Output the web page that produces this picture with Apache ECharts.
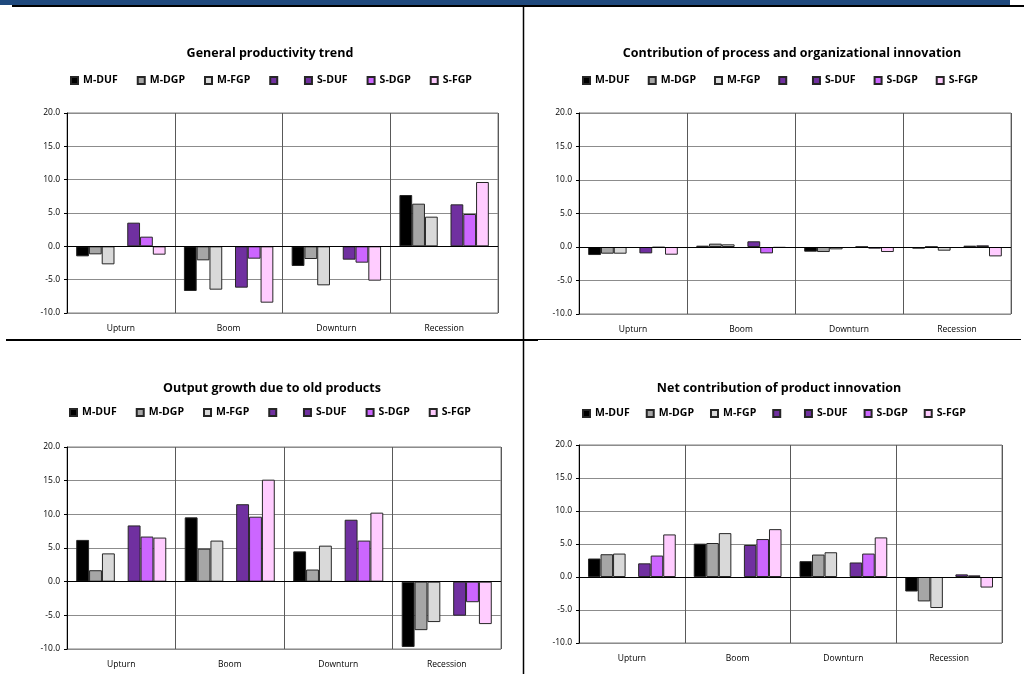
<!DOCTYPE html>
<html>
<head>
<meta charset="utf-8">
<script src="https://cdn.jsdelivr.net/npm/echarts@6/dist/echarts.min.js"></script>
<style>
html,body{margin:0;padding:0;background:#fff;}
#c{width:1024px;height:674px;}
</style>
</head>
<body>
<div id="c"></div>
<script>
// ---- data ----
const categories = ['Upturn', 'Boom', 'Downturn', 'Recession'];
const seriesNames = ['M-DUF', 'M-DGP', 'M-FGP', ' ', 'S-DUF', 'S-DGP', 'S-FGP'];
const yTicks = ['-10.0', '-5.0', '0.0', '5.0', '10.0', '15.0', '20.0'];
const chartTitles = ['General productivity trend', 'Contribution of process and organizational innovation',
                     'Output growth due to old products', 'Net contribution of product innovation'];

// General productivity trend
const gp_M_DUF = [-1.5, -6.7, -2.95, 7.7];
const gp_M_DGP = [-1.2, -2.1, -1.9, 6.4];
const gp_M_FGP = [-2.7, -6.5, -5.85, 4.45];
const gp_blank = [null, null, null, null];
const gp_S_DUF = [3.55, -6.2, -2.0, 6.3];
const gp_S_DGP = [1.45, -1.85, -2.45, 4.85];
const gp_S_FGP = [-1.25, -8.45, -5.15, 9.65];

// Contribution of process and organizational innovation
const pi_M_DUF = [-1.2, 0.2, -0.7, -0.25];
const pi_M_DGP = [-1.0, 0.5, -0.75, 0.05];
const pi_M_FGP = [-1.0, 0.4, -0.35, -0.55];
const pi_blank = [null, null, null, null];
const pi_S_DUF = [-0.95, 0.85, 0.05, 0.2];
const pi_S_DGP = [-0.08, -0.95, -0.25, 0.25];
const pi_S_FGP = [-1.15, -0.12, -0.75, -1.4];

// Output growth due to old products
const op_M_DUF = [6.2, 9.55, 4.5, -9.7];
const op_M_DGP = [1.7, 4.9, 1.8, -7.2];
const op_M_FGP = [4.2, 6.1, 5.35, -6.0];
const op_blank = [null, null, null, null];
const op_S_DUF = [8.35, 11.5, 9.2, -5.05];
const op_S_DGP = [6.7, 9.65, 6.1, -3.05];
const op_S_FGP = [6.55, 15.15, 10.25, -6.3];

// Net contribution of product innovation
const np_M_DUF = [2.8, 5.05, 2.4, -2.2];
const np_M_DGP = [3.45, 5.15, 3.4, -3.7];
const np_M_FGP = [3.55, 6.65, 3.75, -4.7];
const np_blank = [null, null, null, null];
const np_S_DUF = [2.07, 4.85, 2.2, 0.4];
const np_S_DGP = [3.25, 5.75, 3.55, 0.25];
const np_S_FGP = [6.45, 7.25, 6.0, -1.6];

const chartData = [
  [gp_M_DUF, gp_M_DGP, gp_M_FGP, gp_blank, gp_S_DUF, gp_S_DGP, gp_S_FGP],
  [pi_M_DUF, pi_M_DGP, pi_M_FGP, pi_blank, pi_S_DUF, pi_S_DGP, pi_S_FGP],
  [op_M_DUF, op_M_DGP, op_M_FGP, op_blank, op_S_DUF, op_S_DGP, op_S_FGP],
  [np_M_DUF, np_M_DGP, np_M_FGP, np_blank, np_S_DUF, np_S_DGP, np_S_FGP]
];

// ---- styles ----
const colors = ['#000000', '#A6A6A6', '#D9D9D9', '#7030A0', '#7030A0', '#CC66FF', '#FFCCFF'];
const FONT = '"Open Sans", "Liberation Sans", sans-serif';
const grids = [
  {left: 67, top: 113, width: 431, height: 200},
  {left: 579, top: 113, width: 432, height: 201},
  {left: 67, top: 447, width: 434, height: 202},
  {left: 579, top: 445, width: 423, height: 198}
];
const titlePos = [{x: 265, y: 42}, {x: 787, y: 42}, {x: 267, y: 377}, {x: 774, y: 377}];
const legendPos = [{x: 70, y: 75, gap: 19}, {x: 582, y: 75, gap: 18}, {x: 69, y: 407, gap: 19}, {x: 582, y: 408, gap: 16}];
const labelMargin = [11, 11, 11, 11];

const option = {
  animation: false,
  backgroundColor: '#fff',
  textStyle: {fontFamily: FONT},
  title: chartTitles.map((t, i) => ({
    text: t, left: titlePos[i].x, top: titlePos[i].y, textAlign: 'center',
    textStyle: {fontFamily: FONT, fontWeight: 'bold', fontSize: 12.5, color: '#000'}
  })),
  legend: legendPos.map((p, i) => ({
    left: p.x, top: p.y, padding: 0, itemWidth: 7, itemHeight: 7, itemGap: p.gap, icon: 'rect',
    data: seriesNames.map(n => n),
    textStyle: {fontFamily: FONT, fontWeight: 'bold', fontSize: 10.5, color: '#000'},
    selectedMode: false
  })),
  grid: grids.map(g => ({
    left: g.left, top: g.top, width: g.width, height: g.height,
    show: true, borderColor: '#808080', borderWidth: 1, backgroundColor: 'transparent'
  })),
  xAxis: grids.map((g, i) => ({
    type: 'category', gridIndex: i, data: categories,
    axisLine: {show: false}, axisTick: {show: false},
    axisLabel: {fontFamily: FONT, fontSize: 8.5, color: '#000', margin: labelMargin[i]},
    splitLine: {show: true, lineStyle: {color: '#595959', width: 1}}
  })),
  yAxis: grids.map((g, i) => ({
    type: 'value', gridIndex: i, min: -10, max: 20, interval: 5,
    axisLine: {show: true, onZero: false, lineStyle: {color: '#000', width: 1}},
    axisTick: {show: true, length: 3, lineStyle: {color: '#000'}},
    axisLabel: {fontFamily: FONT, fontSize: 8.5, color: '#000', margin: 7,
      formatter: v => yTicks[(v + 10) / 5]},
    splitLine: {show: true, lineStyle: {color: '#8c8c8c', width: 1}}
  })),
  series: [],
  graphic: [
    {type: 'rect', shape: {x: 0, y: 0, width: 1010, height: 5}, style: {fill: '#1F497D'}},
    {type: 'line', shape: {x1: 12, y1: 6, x2: 1024, y2: 6}, style: {stroke: '#000', lineWidth: 2}},
    {type: 'line', shape: {x1: 523.5, y1: 6, x2: 523.5, y2: 674}, style: {stroke: '#000', lineWidth: 1.5}},
    {type: 'line', shape: {x1: 6, y1: 340, x2: 538, y2: 340}, style: {stroke: '#000', lineWidth: 2}},
    {type: 'line', shape: {x1: 538, y1: 339.5, x2: 1021, y2: 339.5}, style: {stroke: '#000', lineWidth: 1}}
  ]
};

chartData.forEach((rows, gi) => {
  rows.forEach((vals, si) => {
    const s = {
      type: 'bar', name: seriesNames[si], xAxisIndex: gi, yAxisIndex: gi,
      data: vals, barGap: '0%', barCategoryGap: '17%',
      itemStyle: {color: colors[si], borderColor: '#262626', borderWidth: 1},
      silent: true
    };
    if (si === 0) {
      s.markLine = {
        silent: true, symbol: 'none', label: {show: false},
        lineStyle: {color: '#000', width: 1.2, type: 'solid'},
        data: [{yAxis: 0}]
      };
    }
    option.series.push(s);
  });
});

const chart = echarts.init(document.getElementById('c'), null, {renderer: 'canvas'});
chart.setOption(option);
</script>
</body>
</html>
